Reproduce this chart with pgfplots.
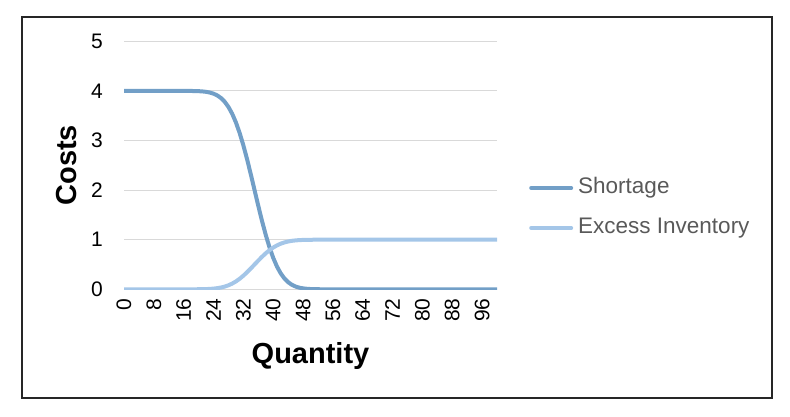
\documentclass[border=0pt]{standalone}
\usepackage{pgfplots}
\pgfplotsset{compat=1.18}
\usepackage{pgfplotstable}
\usepackage{fontspec}
\setmainfont{Liberation Sans}

\definecolor{shortc}{RGB}{114,159,199}
\definecolor{excessc}{RGB}{164,198,232}
\definecolor{gridc}{RGB}{217,217,217}
\definecolor{legtext}{RGB}{89,89,89}

% quantity, shortage cost, excess inventory cost
\pgfplotstableread{
q   short   excess
0   4       0
1   4       0
2   4       0
3   4       0
4   4       0
5   4       0
6   4       0
7   4       0
8   4       0
9   4       0
10  4       0
11  4       0
12  4       0
13  4       0
14  4       0
15  4       0
16  3.9997  0.0001
17  3.9994  0.0002
18  3.9986  0.0003
19  3.9972  0.0007
20  3.9946  0.0013
21  3.9898  0.0026
22  3.9814  0.0047
23  3.9672  0.0082
24  3.9444  0.0139
25  3.9088  0.0228
26  3.8564  0.0359
27  3.7808  0.0548
28  3.6768  0.0808
29  3.5396  0.1151
30  3.3652  0.1587
31  3.1524  0.2119
32  2.9028  0.2743
33  2.6216  0.3446
34  2.3172  0.4207
35  2.0000  0.5000
36  1.6828  0.5793
37  1.3784  0.6554
38  1.0972  0.7257
39  0.8476  0.7881
40  0.6348  0.8413
41  0.4604  0.8849
42  0.3232  0.9192
43  0.2192  0.9452
44  0.1436  0.9641
45  0.0912  0.9772
46  0.0556  0.9861
47  0.0328  0.9918
48  0.0188  0.9953
49  0.0104  0.9974
50  0.0054  0.9987
51  0.0028  0.9993
52  0.0014  0.9997
53  0.0006  0.9998
54  0.0003  0.9999
55  0       1
56  0       1
57  0       1
58  0       1
59  0       1
60  0       1
61  0       1
62  0       1
63  0       1
64  0       1
65  0       1
66  0       1
67  0       1
68  0       1
69  0       1
70  0       1
71  0       1
72  0       1
73  0       1
74  0       1
75  0       1
76  0       1
77  0       1
78  0       1
79  0       1
80  0       1
81  0       1
82  0       1
83  0       1
84  0       1
85  0       1
86  0       1
87  0       1
88  0       1
89  0       1
90  0       1
91  0       1
92  0       1
93  0       1
94  0       1
95  0       1
96  0       1
97  0       1
98  0       1
99  0       1
100 0       1
}\costs

\begin{document}
\begin{tikzpicture}[x=1pt,y=1pt]
\path (0,0) rectangle (790,416);
\draw[line width=1.3pt, black!85] (22,18) rectangle (772,399);
\begin{axis}[
  at={(124pt,126.7pt)}, anchor=south west,
  scale only axis, width=373pt, height=248pt,
  xmin=0, xmax=100, ymin=0, ymax=5,
  axis line style={draw=none},
  tick style={draw=none},
  xtick={0,8,...,96}, ytick={0,1,...,5},
  ymajorgrids, grid style={gridc, line width=1pt},
  /pgf/number format/assume math mode=true,
  tick label style={font=\fontsize{21}{25}\selectfont, inner sep=0pt},
  xticklabel style={rotate=90, anchor=east},
  yticklabel style={anchor=east},
  xticklabel shift=9pt, yticklabel shift=21pt,
  xlabel={Quantity}, ylabel={Costs},
  every axis x label/.style={at={(axis description cs:0.5,-0.298)}, anchor=base, inner sep=0pt},
  every axis y label/.style={at={(axis description cs:-0.126,0.5)}, rotate=90, anchor=south, inner sep=0pt},
  label style={font=\bfseries\fontsize{29}{34}\selectfont},
  legend style={at={(axis description cs:1.0858,0.328)}, anchor=west,
    draw=none, fill=none, inner sep=0pt, row sep=19pt,
    font=\fontsize{22.5}{26}\selectfont, text=legtext,
    nodes={inner sep=0pt, text height=16pt, text depth=5pt},
    /tikz/every odd column/.append style={column sep=5pt}},
  legend cell align=left,
  legend image code/.code={\draw[#1, line cap=round] (2pt,0pt) -- (42pt,0pt);},
]
\addplot[shortc, line width=4pt, line cap=round, line join=round] table[x=q, y=short] {\costs};
\addlegendentry{Shortage}
\addplot[excessc, line width=4pt, line cap=round, line join=round] table[x=q, y=excess] {\costs};
\addlegendentry{Excess Inventory}
\end{axis}
\end{tikzpicture}
\end{document}
